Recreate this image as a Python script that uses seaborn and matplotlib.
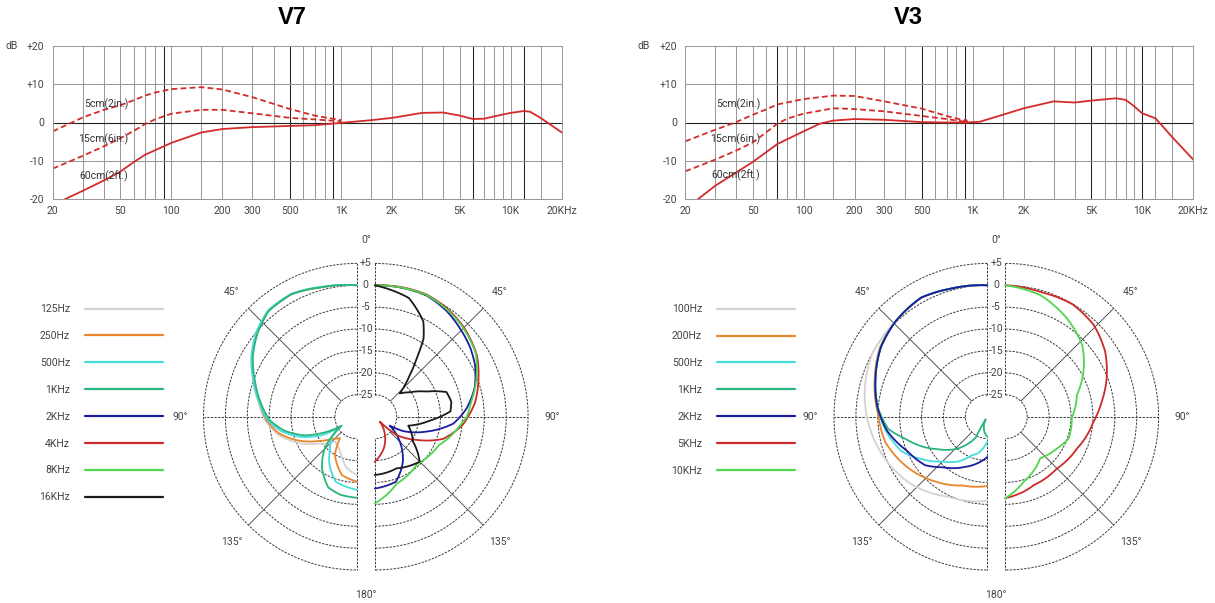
import numpy as np
import matplotlib
matplotlib.use('Agg')
import matplotlib.pyplot as plt
import matplotlib.transforms as mtransforms
from matplotlib.lines import Line2D
import seaborn as sns

sns.set_theme(style='white')
plt.rcParams['font.family'] = ['Roboto', 'DejaVu Sans']

# ========== DATA: frequency response ==========
freq_ticks = [20, 50, 100, 200, 300, 500, 1000, 2000, 5000, 10000, 20000]
freq_tick_labels = ['20', '50', '100', '200', '300', '500', '1K', '2K', '5K', '10K', '20KHz']
db_ticks = [-20, -10, 0, 10, 20]
db_tick_labels = ['-20', '-10', '0', '+10', '+20']
dist_labels = ['5cm(2in.)', '15cm(6in.)', '60cm(2ft.)']

v7_f5 = [20, 30, 40, 50, 60, 70, 80, 100, 150, 200, 300, 500, 700, 1000]
v7_db5 = [-2.3, 1.3, 3.3, 4.5, 5.8, 7.0, 7.8, 8.7, 9.2, 8.6, 6.6, 3.5, 1.8, 0.6]
v7_f15 = [20, 30, 40, 50, 60, 70, 80, 100, 150, 200, 300, 500, 700, 1000]
v7_db15 = [-12.0, -8.7, -6.2, -4.1, -2.2, -0.4, 0.8, 2.3, 3.3, 3.3, 2.4, 1.2, 0.8, 0.3]
v7_f60 = [23.5, 30, 40, 50, 60, 70, 100, 150, 200, 300, 500, 700, 1000, 1500, 2000,
          3000, 4000, 5000, 6000, 7000, 8000, 10000, 12000, 13000, 15000, 20000]
v7_db60 = [-20, -17.8, -15.1, -12.8, -10.3, -8.4, -5.3, -2.6, -1.7, -1.2, -0.9, -0.7, -0.1, 0.6, 1.2,
           2.5, 2.6, 1.8, 0.9, 1.0, 1.6, 2.5, 3.0, 2.8, 1.2, -2.6]

v3_f5 = [20, 30, 40, 50, 60, 70, 100, 150, 200, 300, 500, 700, 900]
v3_db5 = [-4.9, -1.9, 0.1, 2.0, 3.4, 4.7, 6.1, 7.0, 6.9, 5.5, 3.6, 1.7, 0.5]
v3_f15 = [20, 30, 40, 50, 60, 70, 80, 100, 150, 200, 300, 500, 700, 900]
v3_db15 = [-12.7, -9.7, -7.3, -5.2, -2.6, -0.3, 1.0, 2.3, 3.7, 3.5, 2.9, 1.7, 0.9, 0.2]
v3_f60 = [23.7, 30, 40, 50, 70, 100, 125, 150, 200, 300, 500, 700, 900, 1100, 1500, 2000,
          3000, 4000, 5000, 7000, 8000, 9000, 10000, 12000, 15000, 20000]
v3_db60 = [-20, -16.5, -13.0, -10.3, -5.6, -2.3, -0.3, 0.5, 0.9, 0.7, 0.1, 0.0, 0.0, 0.2, 2.0, 3.7,
           5.5, 5.2, 5.7, 6.3, 5.9, 4.2, 2.4, 1.1, -3.7, -9.6]
v3_dot_f = [900]
v3_dot_db = [0.3]

# ========== DATA: polar patterns (angle off axis in degrees, dB) ==========
v7_left_names = ['125Hz', '250Hz', '500Hz', '1KHz']
v7_right_names = ['2KHz', '4KHz', '8KHz', '16KHz']

v7_125_th = [0, 15, 28, 40, 50, 60, 70, 82, 92, 103, 116, 125, 139, 150, 158, 168, 180]
v7_125_db = [0, 0.6, 1.7, 1.5, -0.2, -2.3, -4.8, -7.4, -9.0, -11.6, -16.0, -19.3, -22.5, -21.8, -20.6, -18.2, -16.7]
v7_250_th = [0, 15, 28, 40, 50, 60, 70, 82, 92, 102, 112, 122, 132, 142, 150, 166, 180]
v7_250_db = [0, 0.6, 1.7, 1.5, -0.3, -2.4, -5.0, -7.6, -9.3, -11.8, -15.5, -19.5, -22.5, -23.8, -20.0, -16.2, -15.2]
v7_500_th = [0, 15, 28, 40, 50, 60, 70, 82, 92, 101, 110, 118, 122, 130, 140, 150, 162, 180]
v7_500_db = [0, 0.7, 1.8, 1.6, 0.0, -2.2, -4.8, -7.6, -9.6, -12.5, -16.5, -21.0, -25.5, -22.5, -20.5, -17.5, -14.4, -13.3]
v7_1k_th = [0, 15, 28, 40, 50, 60, 70, 82, 92, 101, 110, 117, 121, 129, 136, 146, 158, 168, 180]
v7_1k_db = [0, 0.6, 1.7, 1.4, -0.4, -2.6, -5.2, -7.9, -10.0, -13.2, -17.5, -22.5, -26.0, -22.4, -19.2, -15.8, -12.6, -11.8, -11.5]

v7_2k_th = [0, 12, 23, 34, 44, 54, 63, 74, 85, 95, 106, 117, 121, 128, 135, 148, 162, 180]
v7_2k_db = [0, 0.1, 0.1, -0.8, -2.0, -3.1, -4.3, -6.3, -9.0, -12.0, -17.7, -22.8, -26.0, -24.0, -21.9, -17.9, -14.4, -13.6]
v7_4k_th = [0, 12, 23, 34, 45, 59, 70, 82, 95, 108, 119, 130, 135, 151, 164, 180]
v7_4k_db = [0, 0.2, 0.3, -0.3, -1.2, -2.8, -4.8, -6.9, -9.8, -13.6, -19.1, -23.5, -28.4, -25.2, -22.5, -19.7]
v7_8k_th = [0, 12, 23, 34, 44, 58, 68, 81, 90, 96, 114, 138, 162, 180]
v7_8k_db = [0, 0.1, 0.2, -0.5, -1.3, -2.8, -4.9, -7.7, -9.0, -10.5, -14.0, -15.5, -13.9, -10.2]
v7_16k_th = [0, 16, 27, 32, 35, 40, 47, 55, 64, 71, 79, 86, 94, 105, 123, 135, 157, 180]
v7_16k_db = [0, -1.8, -5.6, -9.0, -12.8, -17.6, -22.2, -20.3, -16.9, -12.7, -12.2, -12.7, -17.4, -22.1, -19.6, -15.5, -17.2, -16.7]

v3_left_names = ['100Hz', '200Hz', '500Hz', '1KHz', '2KHz']
v3_right_names = ['5KHz', '10KHz']

v3_100_th = [0, 16, 29, 44, 62, 77, 89, 106, 130, 154, 180]
v3_100_db = [0, 0.4, 1.1, 0.2, -0.1, -1.3, -2.4, -4.1, -6.6, -9.7, -10.8]
v3_200_th = [0, 16, 29, 44, 57, 73, 89, 104, 123, 141, 160, 180]
v3_200_db = [0, 0.4, 1.1, 0.2, -0.8, -3.1, -5.1, -6.0, -8.5, -11.0, -13.3, -14.2]
v3_500_th = [0, 16, 29, 44, 57, 71, 85, 98, 112, 123, 135, 147, 158, 166, 180]
v3_500_db = [0, 0.4, 1.1, 0.2, -1.0, -3.0, -4.9, -6.6, -8.9, -12.2, -15.5, -17.8, -20.5, -21.4, -24.3]
v3_1k_th = [0, 16, 29, 44, 57, 71, 85, 97, 105, 116, 123, 137, 151, 148, 169, 180]
v3_1k_db = [0, 0.4, 1.1, 0.2, -1.0, -3.0, -4.9, -7.2, -10.6, -14.1, -16.4, -20.0, -24.5, -29.3, -26.5, -25.4]
v3_2k_th = [0, 16, 29, 44, 57, 71, 85, 98, 113, 128, 138, 155, 180]
v3_2k_db = [0, 0.4, 1.1, 0.2, -1.0, -3.0, -4.8, -6.9, -10.1, -12.0, -14.5, -17.3, -20.8]

v3_5k_th = [0, 16, 31, 44, 57, 69, 81, 93, 114, 135, 157, 166, 180]
v3_5k_db = [0, -0.4, -0.1, -0.9, -2.8, -5.2, -7.7, -9.8, -12.1, -13.3, -13.1, -12.4, -11.4]
v3_10k_th = [0, 16, 32, 47, 57, 73, 91, 109, 122, 140, 164, 180]
v3_10k_db = [0, -1.1, -3.5, -6.0, -8.6, -12.9, -14.8, -14.7, -16.2, -17.6, -14.6, -11.4]

ring_vals = [5, 0, -5, -10, -15, -20, -25]
ring_labels = ['+5', '0', '-5', '-10', '-15', '-20', '-25']

# ========== STYLE ==========
W, H = 1215, 603
RED = '#d42b2b'
TXT = '#444444'
GREY, ORANGE, CYAN, TEAL = '#d3d3d3', '#e8862a', '#45dede', '#29b57c'
BLUE, PRED, GREEN, BLACK = '#1c1ca0', '#cc2a2a', '#4fd64f', '#1a1a1a'

fig = plt.figure(figsize=(W / 100, H / 100), dpi=100)
fig.patch.set_facecolor('white')


def box(left, top, w, h):
    return [left / W, 1 - (top + h) / H, w / W, h / H]


grid_freqs = [30, 40, 50, 60, 70, 80, 90, 100, 150, 200, 300, 400, 500, 600, 700, 800, 900,
              1000, 1500, 2000, 3000, 4000, 5000, 6000, 7000, 8000, 9000, 10000, 12000, 15000]


def freq_chart(rect, curves, dark, notes):
    ax = fig.add_axes(rect)
    for f in grid_freqs:
        ax.axvline(f, color='#222222' if f in dark else '#9a9a9a', lw=0.75, zorder=0)
    for d in [-10, 10]:
        ax.axhline(d, color='#9a9a9a', lw=0.75, zorder=0)
    ax.axhline(0, color='#222222', lw=0.8, zorder=0)

    for (f, d, dashed) in curves:
        sns.lineplot(x=f, y=d, ax=ax, color=RED, lw=1.3, estimator=None)
        if dashed:
            ax.lines[-1].set_dashes((3.2, 1.8))

    ax.set_xscale('log')
    ax.set_xlim(20, 20000)
    ax.set_ylim(-20, 20)
    ax.set_xticks(freq_ticks)
    ax.set_xticklabels(freq_tick_labels)
    ax.set_xticks([], minor=True)
    ax.set_yticks(db_ticks)
    ax.set_yticklabels(db_tick_labels)
    ax.set_xlabel('')
    ax.set_ylabel('')
    ax.tick_params(axis='both', length=0, labelsize=7.5, labelcolor=TXT)
    ax.tick_params(axis='x', pad=5)
    ax.tick_params(axis='y', pad=6)
    for sp in ax.spines.values():
        sp.set_color('#9a9a9a')
        sp.set_linewidth(0.75)
    ax.annotate('dB', xy=(0, 1), xycoords='axes fraction', xytext=(-35, 0),
                textcoords='offset pixels', ha='right', va='center', fontsize=7.5, color=TXT)
    for (f, d), s in zip(notes, dist_labels):
        ax.text(f, d, s, ha='right', va='center', fontsize=7.5, color='#333333')
    return ax


ax7 = freq_chart(box(52.8, 45.7, 509, 153.6),
                 [(v7_f5, v7_db5, True), (v7_f15, v7_db15, True), (v7_f60, v7_db60, False)],
                 dark=[90, 500, 900, 6000, 12000],
                 notes=[(55.5, 4.8), (55.5, -4.4), (55.5, -14.0)])
ax3 = freq_chart(box(685.3, 45.7, 507.7, 153.6),
                 [(v3_f5, v3_db5, True), (v3_f15, v3_db15, True), (v3_f60, v3_db60, False)],
                 dark=[70, 500, 900, 5000, 10000],
                 notes=[(55.3, 4.7), (55.3, -4.3), (55.3, -13.7)])
ax3.scatter(v3_dot_f, v3_dot_db, s=6, color=RED, zorder=5)

fig.text(292 / W, 1 - 17 / H, 'V7', ha='center', va='center', fontsize=17,
         fontweight='bold', family='Liberation Sans', color='black')
fig.text(908 / W, 1 - 17 / H, 'V3', ha='center', va='center', fontsize=17,
         fontweight='bold', family='Liberation Sans', color='black')

# ========== POLAR HALVES ==========
CY = 416.7
R = 153.3
DASH = (0, (2.4, 1.3))
GRID = '#3a3a3a'
R_IN, R_OUT = -25, 5


def polar_half(cx, direction, lines):
    left = cx - (0.5 if direction == -1 else 1.5) * R
    ax = fig.add_axes(box(left, CY - R, 2 * R, 2 * R), projection='polar')
    ax.patch.set_alpha(0)
    for th, db, c in lines:
        sns.lineplot(x=np.deg2rad(th), y=db, ax=ax, sort=False, estimator=None,
                     color=c, lw=1.3, clip_on=False, zorder=3)
        # draw each segment along the polar grid (spiral) rather than as a chord
        ax.lines[-1].get_path()._interpolation_steps = 24
    # frame of the half disc: outer/inner rings and the two straight edges, dashed
    arc = np.linspace(0, np.pi, 181)
    for r in (R_IN, R_OUT):
        ax.plot(arc, np.full_like(arc, r), color=GRID, lw=0.7, ls=DASH, clip_on=False, zorder=1)
    for t in (0, np.pi):
        ax.plot([t, t], [R_IN, R_OUT], color=GRID, lw=0.7, ls=DASH, clip_on=False, zorder=1)
    ax.set_theta_zero_location('N')
    ax.set_theta_direction(direction)
    ax.set_thetamin(0)
    ax.set_thetamax(180)
    ax.set_ylim(R_IN, R_OUT)
    ax.set_rorigin(-30)
    ax.set_rgrids([-20, -15, -10, -5, 0], labels=[])
    ax.set_thetagrids([45, 90, 135], labels=[])
    ax.set_xlabel('')
    ax.set_ylabel('')
    ax.yaxis.grid(True, color=GRID, linewidth=0.7, linestyle=DASH)
    ax.xaxis.grid(True, color=GRID, linewidth=0.6, linestyle='-')
    gl = ax.xaxis.get_gridlines()
    gl[1].set_linestyle(DASH)
    gl[1].set_linewidth(0.7)
    # polar axes turn the edge spines back on when drawing, so make them invisible by colour
    for sp in ax.spines.values():
        sp.set_edgecolor('none')
        sp.set_linewidth(0)
    for ang, s in [(45, '45°'), (90, '90°'), (135, '135°')]:
        ax.text(np.deg2rad(ang), 10.4, s, ha='center', va='center', fontsize=7.5,
                color=TXT, clip_on=False)
    return ax


def center_labels(ax):
    tr = mtransforms.offset_copy(ax.transData, fig=fig, x=-9, y=0, units='dots')
    for r, s in zip(ring_vals, ring_labels):
        ax.text(0, r, s, transform=tr, ha='center', va='center', fontsize=7.5,
                color=TXT, clip_on=False)
    ax.text(0, 10.4, '0°', transform=tr, ha='center', va='center', fontsize=7.5,
            color=TXT, clip_on=False)
    ax.text(np.pi, 10.6, '180°', transform=tr, ha='center', va='center', fontsize=7.5,
            color=TXT, clip_on=False)


v7_left = [(v7_125_th, v7_125_db, GREY), (v7_250_th, v7_250_db, ORANGE),
           (v7_500_th, v7_500_db, CYAN), (v7_1k_th, v7_1k_db, TEAL)]
v7_right = [(v7_2k_th, v7_2k_db, BLUE), (v7_4k_th, v7_4k_db, PRED),
            (v7_8k_th, v7_8k_db, GREEN), (v7_16k_th, v7_16k_db, BLACK)]
pl7 = polar_half(356.8, 1, v7_left)
pr7 = polar_half(374.8, -1, v7_right)
center_labels(pr7)

v3_left = [(v3_100_th, v3_100_db, GREY), (v3_200_th, v3_200_db, ORANGE),
           (v3_500_th, v3_500_db, CYAN), (v3_1k_th, v3_1k_db, TEAL),
           (v3_2k_th, v3_2k_db, BLUE)]
v3_right = [(v3_5k_th, v3_5k_db, PRED), (v3_10k_th, v3_10k_db, GREEN)]
pl3 = polar_half(987.3, 1, v3_left)
pr3 = polar_half(1005.3, -1, v3_right)
center_labels(pr3)


# ========== LEGENDS ==========
def side_legend(items, names, x_right, y_mid):
    handles = [Line2D([], [], color=c, lw=1.6) for _, _, c in items]
    fig.legend(handles, names, loc='center right',
               bbox_to_anchor=(x_right / W, 1 - y_mid / H),
               markerfirst=False, frameon=False, handlelength=7.5, handletextpad=1.44,
               labelspacing=1.62, borderpad=0, borderaxespad=0, labelcolor=TXT,
               prop={'family': ['Roboto', 'DejaVu Sans'], 'size': 7.5})


side_legend(v7_left + v7_right, v7_left_names + v7_right_names, 163, 403.3)
side_legend(v3_left + v3_right, v3_left_names + v3_right_names, 795, 390.0)

fig.savefig('out.png', dpi=100, facecolor='white')
